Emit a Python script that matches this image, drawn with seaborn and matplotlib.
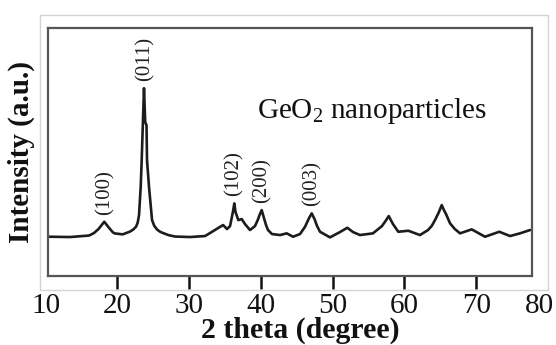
import numpy as np
import matplotlib
matplotlib.use("Agg")
import matplotlib.pyplot as plt
import matplotlib.transforms as mtransforms
from matplotlib.patches import Rectangle
import seaborn as sns

# XRD pattern of GeO2 nanoparticles (2-theta in degrees, intensity in a.u.)
two_theta = [10.64, 13.49, 16.13, 16.80, 17.40, 17.90, 18.26, 18.60, 19.06, 19.40,
             19.65, 20.82, 21.84, 22.30, 22.67, 22.90, 23.09, 23.32, 23.46, 23.78,
             23.95, 24.13, 24.20, 24.48, 24.90, 25.20, 25.60, 26.00, 26.43, 27.20,
             28.10, 30.18, 32.27, 32.97, 34.08, 34.78, 35.33, 35.75, 36.17, 36.34,
             36.51, 36.90, 37.37, 37.83, 38.53, 39.22, 39.60, 39.85, 40.15, 40.47,
             40.75, 41.03, 41.58, 42.70, 43.63, 44.51, 45.48, 46.18, 46.74, 47.11,
             47.50, 47.85, 48.26, 49.65, 51.04, 52.06, 52.85, 53.82, 55.63, 56.88,
             57.40, 57.82, 58.41, 59.15, 60.54, 62.17, 63.28, 63.80, 64.26, 64.80,
             65.19, 65.50, 65.79, 66.35, 67.00, 67.74, 69.36, 71.21, 73.20, 74.69,
             76.08, 77.47]
intensity = [15.85, 15.73, 16.33, 17.30, 18.80, 20.60, 21.90, 20.60, 18.95, 17.80,
             17.22, 16.81, 17.94, 18.80, 19.88, 21.50, 24.60, 35.89, 46.77, 75.81,
             62.10, 60.89, 46.77, 35.89, 22.58, 20.30, 18.75, 17.90, 17.34, 16.50,
             15.93, 15.73, 16.13, 17.34, 19.35, 20.56, 18.95, 20.16, 26.21, 29.31,
             25.81, 22.58, 22.98, 20.97, 18.55, 20.16, 22.60, 24.60, 26.61, 23.39,
             20.60, 18.55, 16.94, 16.53, 17.22, 15.85, 16.94, 19.88, 23.39, 25.28,
             22.98, 20.20, 17.86, 15.60, 17.74, 19.48, 17.74, 16.53, 17.22, 20.16,
             22.30, 24.19, 20.97, 17.86, 18.27, 16.53, 18.55, 20.20, 22.58, 25.80,
             28.63, 26.60, 25.00, 21.25, 19.00, 17.22, 18.83, 15.85, 17.86, 16.13,
             17.22, 18.55]

# Indexed reflections
peak_hkl = ["(100)", "(011)", "(102)", "(200)", "(003)"]
peak_pos = [18.30, 23.85, 36.30, 40.20, 47.20]

tick_values = [20, 30, 40, 50, 60, 70]
edge_tick_labels = ["10", "80"]

sns.set_theme(style="white")
plt.rcParams["font.family"] = ["Liberation Serif", "DejaVu Serif"]
plt.rcParams["mathtext.fontset"] = "custom"
plt.rcParams["mathtext.rm"] = "Liberation Serif"
plt.rcParams["mathtext.default"] = "regular"

W, H = 556, 345
fig = plt.figure(figsize=(W / 100, H / 100), dpi=100)
fig.patch.set_facecolor("white")

# light outer frame around the panel
fig.add_artist(Rectangle((39.5 / W, 1 - 290 / H), (548 - 39.5) / W, (290 - 15) / H,
                         transform=fig.transFigure, fill=False,
                         edgecolor="#d4d4d4", linewidth=1.0))

ax = fig.add_axes([48.3 / W, 1 - 276 / H, (532.3 - 48.3) / W, (276 - 28.3) / H])
ax.set_facecolor("white")

sns.lineplot(x=two_theta, y=intensity, ax=ax, color="#1c1c1c",
             linewidth=1.9, sort=False)

ax.set_xlim(10.47, 77.79)
ax.set_ylim(0, 100)
ax.set_xticks(tick_values)
ax.set_xticklabels([str(v) for v in tick_values])
ax.set_yticks([])

tick_len, tick_pad = 9, 3
tick_fs = 21
ax.tick_params(axis="x", direction="out", length=tick_len, width=1.8,
               color="#111111", labelsize=tick_fs, pad=tick_pad, bottom=True,
               labelcolor="#111111")
for side in ["left", "right", "top", "bottom"]:
    ax.spines[side].set_visible(True)
    ax.spines[side].set_color("#555555")
    ax.spines[side].set_linewidth(1.6)

# end labels of the 2-theta range
label_trans = ax.transAxes + mtransforms.ScaledTranslation(
    0, -(tick_len + tick_pad) / 72, fig.dpi_scale_trans)
for xf, lab in zip([-0.005, 1.014], edge_tick_labels):
    ax.text(xf, 0, lab, transform=label_trans, ha="center", va="top",
            fontsize=tick_fs, color="#111111", clip_on=False)

ax.set_xlabel("2 theta (degree)", fontsize=21.5, fontweight="bold", color="#111111")
ax.xaxis.set_label_coords(0.52, -0.165)
ax.set_ylabel("Intensity (a.u.)", fontsize=21, fontweight="bold", color="#111111")
ax.yaxis.set_label_coords(-0.028, 0.5)

# Miller indices above the reflections
tt = np.asarray(two_theta)
ii = np.asarray(intensity)
for hkl, pos in zip(peak_hkl, peak_pos):
    near = np.abs(tt - pos) < 0.6
    top = ii[near].max()
    ax.text(pos, top + 2.8, hkl, rotation=90, ha="center", va="bottom",
            fontsize=15, color="#222222")

ax.text(0.668, 0.638, "GeO$_2$ nanoparticles", transform=ax.transAxes,
        ha="center", va="baseline", fontsize=21, color="#111111")

fig.savefig("out.png", dpi=100, facecolor="white")
